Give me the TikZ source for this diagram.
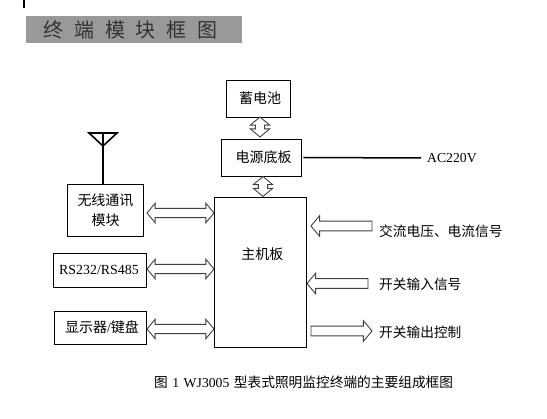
\documentclass[tikz,border=0pt]{standalone}
\usepackage{fontspec}
\setmainfont{Liberation Serif}
\newfontfamily\cjk{Noto Sans CJK SC}
\usetikzlibrary{shapes.arrows}
\tikzset{
  box/.style={draw,line width=0.7pt,inner sep=0pt,font=\cjk\fontsize{14}{20}\selectfont,align=center},
  label/.style={inner sep=0pt,anchor=west,font=\cjk\fontsize{13.7}{16}\selectfont},
  dualarrow/.style={double arrow,draw=black!75,fill=white,line width=0.9pt,inner sep=4.2pt,double arrow head extend=5pt,double arrow tip angle=100,minimum width=19pt},
  blockarrow/.style={single arrow,draw=black!75,fill=white,line width=0.9pt,inner sep=4.4pt,single arrow head extend=5.5pt,single arrow tip angle=100,minimum width=20pt,minimum height=61pt}
}
\begin{document}
\begin{tikzpicture}[x=1pt,y=-1pt]
  \useasboundingbox (0,0) rectangle (547,419);
  \fill[black] (23,0) rectangle (25,8);
  \node[fill=black!40,minimum width=216pt,minimum height=27pt,inner sep=0pt] (titleband) at (134,29.5) {};
  \node[inner sep=0pt,text=black!80,font=\cjk\fontsize{20}{20}\selectfont] (title) at (130.5,30) {\spaceskip=11pt 终 端 模 块 框 图};
  \node[box,minimum width=64pt,minimum height=37pt] (battery) at (258,98.5) {\hspace*{4pt}蓄电池};
  \node[box,minimum width=80pt,minimum height=37pt] (power) at (261,157.5) {\hspace*{5pt}电源底板};
  \node[box,minimum width=92pt,minimum height=150pt] (mainboard) at (260,272) {};
  \node[box,anchor=west] at (241,254) (mainlabel) [draw=none] {主机板};
  \node[box,minimum width=76pt,minimum height=52pt] (wireless) at (105.5,210) {无线通讯\\模块};
  \node[box,minimum width=93pt,minimum height=34pt] (serial) at (100,270) {\rmfamily\fontsize{13.9}{16}\selectfont RS232/RS485\hspace*{2pt}};
  \node[box,minimum width=92pt,minimum height=33pt] (display) at (100.5,327.5) {\hspace*{3pt}显示器{\rmfamily/}键盘};
  % antenna
  \coordinate (mast) at (103,133);
  \draw[line width=1.6pt] (wireless.north -| mast) -- (mast);
  \draw[line width=1.6pt] (89,133) -- (117,133) -- (103,146) -- cycle;
  % power line
  \node[inner sep=0pt,anchor=west,font=\fontsize{13.7}{16}\selectfont] (mains) at (427,158) {AC220V};
  \draw[line width=1.5pt] (power.east) ++(2,0) -- (421,158);
  \node[dualarrow,shape border rotate=90,minimum height=20pt] (a1) at (260,127) {};
  \node[dualarrow,shape border rotate=90,minimum height=20pt] (a2) at (263,186.5) {};
  \node[dualarrow,minimum height=67pt] (a3) at (180.5,213) {};
  \node[dualarrow,minimum height=67pt] (a4) at (180.5,269) {};
  \node[dualarrow,minimum height=67pt] (a5) at (180.5,329) {};
  \node[blockarrow,shape border rotate=180] (a6) at (343.5,226) {};
  \node[blockarrow,shape border rotate=180] (a7) at (339.5,283.5) {};
  \node[blockarrow] (a8) at (339.5,331) {};
  \node[label] (acdc) at (379,231) {交流电压、电流信号};
  \node[label] (swin) at (379,284) {开关输入信号};
  \node[label] (swout) at (379,332) {开关输出控制};
  \node[label] (caption) at (154,382) {\spaceskip=4.5pt 图 {\rmfamily 1 WJ3005} 型表式照明监控终端的主要组成框图};
\end{tikzpicture}
\end{document}
